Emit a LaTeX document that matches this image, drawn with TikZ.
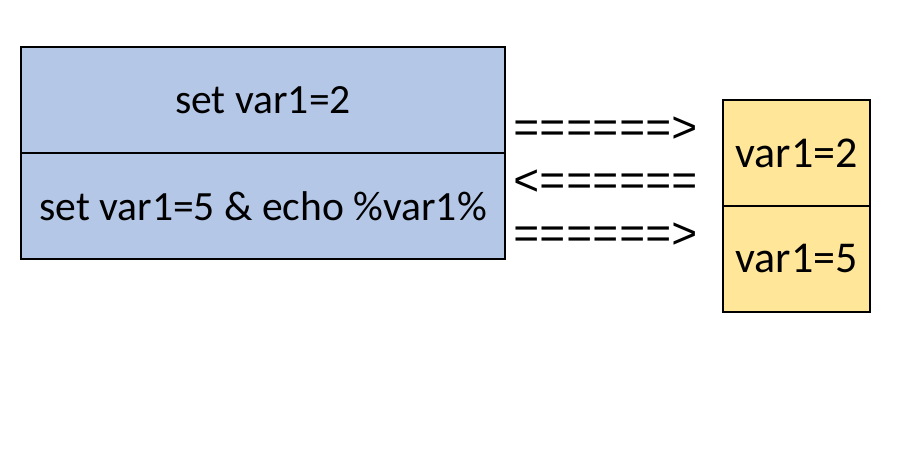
\documentclass[tikz,border=0pt]{standalone}
\usepackage{fontspec}
\setmainfont{Carlito}
\setmonofont{Liberation Mono}
\usepackage{xcolor}
\definecolor{cellblue}{HTML}{B4C7E7}
\definecolor{cellyellow}{HTML}{FFE699}

\begin{document}
\begin{tikzpicture}[x=0.5pt,y=-0.5pt,
  cmdbox/.style={draw=black,line width=0.75pt,fill=cellblue,minimum width=242pt,minimum height=53pt,inner sep=0pt,font=\fontsize{20.8}{24}\selectfont},
  varbox/.style={draw=black,line width=0.75pt,fill=cellyellow,minimum width=73.5pt,minimum height=53pt,inner sep=0pt,font=\fontsize{22}{26}\selectfont},
  flow/.style={inner sep=0pt,font=\ttfamily\fontsize{22}{26}\selectfont}]
\useasboundingbox (0,0) rectangle (915,449);

\node[cmdbox] (set2) at (263,100) {set var1=2};
\node[cmdbox] (set5) at (263,206) {set var1=5 \& echo \%var1\%};

\node[varbox] (var2) at (796.5,153) {var1=2};
\node[varbox] (var5) at (796.5,259) {var1=5};

\node[flow] (fwd1) at (606,130) {======>};
\node[flow] (back) at (606,183) {<======};
\node[flow] (fwd2) at (606,236) {======>};
\end{tikzpicture}
\end{document}
